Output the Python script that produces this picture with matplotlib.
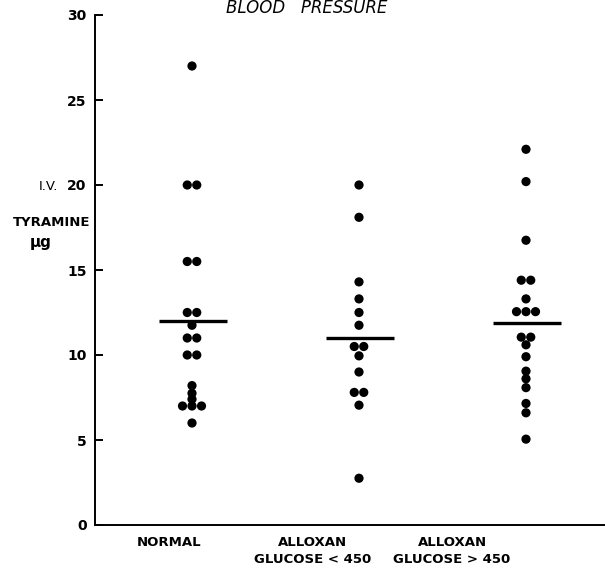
import numpy as np
import matplotlib
matplotlib.use('Agg')
import matplotlib.pyplot as plt

categories = ['NORMAL', 'ALLOXAN\nGLUCOSE < 450', 'ALLOXAN\nGLUCOSE > 450']
normal = [27, 20, 20, 15.5, 15.5, 12.5, 12.5, 11.75, 11, 11, 10, 10,
          8.2, 7.75, 7.4, 7, 7, 7, 6]
glucose_low = [20, 18.1, 14.3, 13.3, 12.5, 11.75, 10.5, 10.5, 9.95, 9.0,
               7.8, 7.8, 7.05, 2.75]
glucose_high = [22.1, 20.2, 16.75, 14.4, 14.4, 13.3, 12.55, 12.55, 12.55,
                11.05, 11.05, 10.6, 9.9, 9.05, 8.6, 8.08, 7.15, 6.6, 5.05]
means = [12.0, 11.0, 11.9]
yticks = [0, 5, 10, 15, 20, 25, 30]
groups = [normal, glucose_low, glucose_high]

W, H = 605, 568
fig = plt.figure(figsize=(W / 100, H / 100), dpi=100)
ax = fig.add_axes([95 / W, 43 / H, 510 / W, 510 / H])
px = 167.0  # pixels per category unit
ax.set_xlim(-97 / px, (605 - 192) / px)
ax.set_ylim(0, 30)

step = 9.5 / px
for i, vals in enumerate(groups):
    vals = np.asarray(vals, dtype=float)
    xs = np.zeros_like(vals)
    # spread identical values side by side
    uniq = []
    for v in vals:
        if not any(abs(v - u) < 0.05 for u in uniq):
            uniq.append(v)
    for u in uniq:
        idx = np.where(np.abs(vals - u) < 0.05)[0]
        n = len(idx)
        for k, j in enumerate(idx):
            xs[j] = (k - (n - 1) / 2) * step
    ax.scatter(i + xs, vals, s=44, color='black', edgecolors='none', zorder=3)
    ax.hlines(means[i], i - 0.2, i + 0.21, color='black', lw=2.4, zorder=2)

for s in ['top', 'right']:
    ax.spines[s].set_visible(False)
for s in ['left', 'bottom']:
    ax.spines[s].set_linewidth(1.4)

ax.set_yticks(yticks)
ax.set_yticklabels([str(t) for t in yticks], fontsize=10, fontweight='bold')
ax.tick_params(axis='y', direction='in', length=6, width=1.4, pad=6)

label_pos = [(169 - 192) / px, (313 - 192) / px, (452 - 192) / px]
ax.set_xticks(label_pos)
ax.set_xticklabels(categories, fontsize=9.5, fontweight='bold', linespacing=1.35)
ax.tick_params(axis='x', length=0, pad=8)

fig.text(48 / W, 1 - 186 / H, 'I.V.', ha='center', va='center', fontsize=9.5)
fig.text(52 / W, 1 - 223 / H, 'TYRAMINE', ha='center', va='center', fontsize=9.5, fontweight='bold')
fig.text(41 / W, 1 - 243 / H, 'µg', ha='center', va='center', fontsize=11, fontweight='bold')

fig.text(307 / W, 1 - 13 / H, 'BLOOD   PRESSURE', ha='center', va='baseline',
         fontsize=12, style='italic')

fig.savefig('out.png', dpi=100)
